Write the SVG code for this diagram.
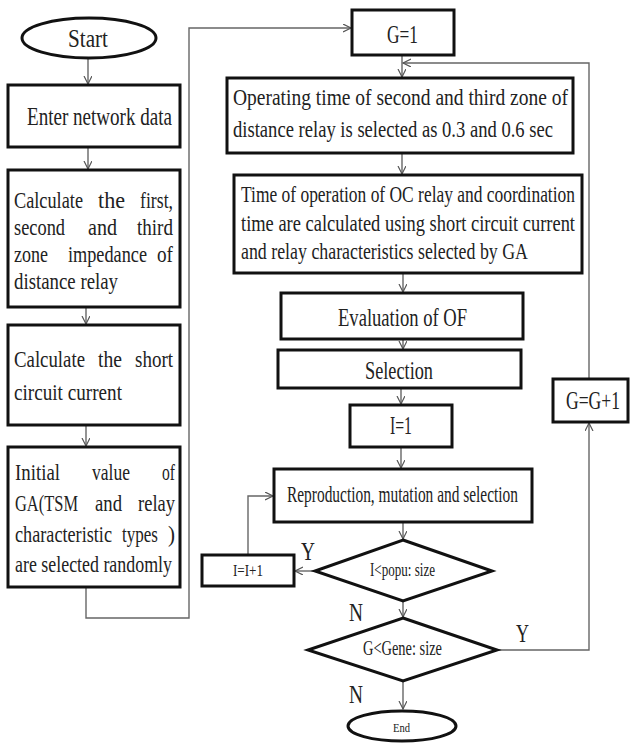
<svg xmlns="http://www.w3.org/2000/svg" width="630" height="744" viewBox="0 0 630 744">
<defs>
<marker id="ah" markerWidth="10" markerHeight="10" refX="8" refY="4" orient="auto" markerUnits="userSpaceOnUse">
<path d="M0,0 L8,4 L0,8" fill="none" stroke="#555" stroke-width="1.2"/>
</marker>
<style>
.box{fill:#fff;stroke:#111;stroke-width:3}
.con{fill:none;stroke:#666;stroke-width:1.4}
text{font-family:"Liberation Serif","Times New Roman",serif;fill:#222;lengthAdjust:spacingAndGlyphs}
.t{font-size:23px}
.lab{font-size:26px}
</style>
</defs>
<rect width="630" height="744" fill="#fff"/>

<g id="connectors">
<line class="con" x1="88" y1="59" x2="88" y2="84" marker-end="url(#ah)"/>
<line class="con" x1="88" y1="148" x2="88" y2="169" marker-end="url(#ah)"/>
<line class="con" x1="86" y1="307" x2="86" y2="324" marker-end="url(#ah)"/>
<line class="con" x1="86" y1="425" x2="86" y2="446" marker-end="url(#ah)"/>
<polyline class="con" points="86,588 86,618 189,618 189,28 351,28" marker-end="url(#ah)"/>
<line class="con" x1="402" y1="56" x2="402" y2="77" marker-end="url(#ah)"/>
<polyline class="con" points="589,379 589,63 403,63" marker-end="url(#ah)"/>
<line class="con" x1="402" y1="154" x2="402" y2="174" marker-end="url(#ah)"/>
<line class="con" x1="403" y1="274" x2="403" y2="292" marker-end="url(#ah)"/>
<line class="con" x1="403" y1="340" x2="403" y2="349" marker-end="url(#ah)"/>
<line class="con" x1="401" y1="389" x2="401" y2="404" marker-end="url(#ah)"/>
<line class="con" x1="401" y1="448" x2="401" y2="468" marker-end="url(#ah)"/>
<line class="con" x1="403" y1="523" x2="403" y2="539" marker-end="url(#ah)"/>
<line class="con" x1="315" y1="571" x2="295" y2="571" marker-end="url(#ah)"/>
<polyline class="con" points="248,555 248,496 273,496" marker-end="url(#ah)"/>
<line class="con" x1="403" y1="602" x2="403" y2="617" marker-end="url(#ah)"/>
<polyline class="con" points="497,650 589,650 589,423" marker-end="url(#ah)"/>
<line class="con" x1="403" y1="682" x2="403" y2="709" marker-end="url(#ah)"/>
</g>

<g id="start">
<ellipse class="box" cx="89" cy="38" rx="67" ry="20"/>
<text class="lab" x="68" y="47" textLength="40" lengthAdjust="spacingAndGlyphs">Start</text>
</g>

<g id="enter">
<rect class="box" x="8" y="85" width="172" height="62"/>
<text class="lab" x="27" y="125" textLength="145" lengthAdjust="spacingAndGlyphs">Enter network data</text>
</g>

<g id="calc-zone">
<rect class="box" x="8" y="170" width="172" height="137"/>
<text class="t" y="208"><tspan x="14" textLength="69" lengthAdjust="spacingAndGlyphs">Calculate</tspan><tspan x="98" textLength="27" lengthAdjust="spacingAndGlyphs">the</tspan><tspan x="140" textLength="33" lengthAdjust="spacingAndGlyphs">first,</tspan></text>
<text class="t" y="235"><tspan x="14" textLength="51" lengthAdjust="spacingAndGlyphs">second</tspan><tspan x="88" textLength="29" lengthAdjust="spacingAndGlyphs">and</tspan><tspan x="137" textLength="36" lengthAdjust="spacingAndGlyphs">third</tspan></text>
<text class="t" y="262"><tspan x="14" textLength="34" lengthAdjust="spacingAndGlyphs">zone</tspan><tspan x="68" textLength="79" lengthAdjust="spacingAndGlyphs">impedance</tspan><tspan x="157" textLength="16" lengthAdjust="spacingAndGlyphs">of</tspan></text>
<text class="t" x="14" y="289" textLength="104" lengthAdjust="spacingAndGlyphs">distance relay</text>
</g>

<g id="calc-short">
<rect class="box" x="8" y="325" width="172" height="100"/>
<text class="t" y="367"><tspan x="14" textLength="71" lengthAdjust="spacingAndGlyphs">Calculate</tspan><tspan x="98" textLength="24" lengthAdjust="spacingAndGlyphs">the</tspan><tspan x="135" textLength="38" lengthAdjust="spacingAndGlyphs">short</tspan></text>
<text class="t" x="14" y="400" textLength="108" lengthAdjust="spacingAndGlyphs">circuit current</text>
</g>

<g id="initial">
<rect class="box" x="8" y="447" width="172" height="140"/>
<text class="t" y="480"><tspan x="15" textLength="45" lengthAdjust="spacingAndGlyphs">Initial</tspan><tspan x="92" textLength="38" lengthAdjust="spacingAndGlyphs">value</tspan><tspan x="162" textLength="13" lengthAdjust="spacingAndGlyphs">of</tspan></text>
<text class="t" y="511"><tspan x="15" textLength="63" lengthAdjust="spacingAndGlyphs">GA(TSM</tspan><tspan x="95" textLength="27" lengthAdjust="spacingAndGlyphs">and</tspan><tspan x="138" textLength="37" lengthAdjust="spacingAndGlyphs">relay</tspan></text>
<text class="t" y="542"><tspan x="15" textLength="97" lengthAdjust="spacingAndGlyphs">characteristic</tspan><tspan x="122" textLength="36" lengthAdjust="spacingAndGlyphs">types</tspan><tspan x="168" textLength="7" lengthAdjust="spacingAndGlyphs">)</tspan></text>
<text class="t" x="15" y="572" textLength="157" lengthAdjust="spacingAndGlyphs">are selected randomly</text>
</g>

<g id="g1">
<rect class="box" x="352" y="10" width="102" height="45"/>
<text class="lab" x="387" y="43" textLength="31" lengthAdjust="spacingAndGlyphs">G=1</text>
</g>

<g id="operating">
<rect class="box" x="227" y="78" width="346" height="75"/>
<text class="t" x="233" y="105" textLength="335" lengthAdjust="spacingAndGlyphs">Operating time of second and third zone of</text>
<text class="t" x="233" y="137" textLength="320" lengthAdjust="spacingAndGlyphs">distance relay is selected as 0.3 and 0.6 sec</text>
</g>

<g id="timeop">
<rect class="box" x="234" y="175" width="348" height="98"/>
<text class="t" x="241" y="202" textLength="334" lengthAdjust="spacingAndGlyphs">Time of operation of OC relay and coordination</text>
<text class="t" x="241" y="231" textLength="334" lengthAdjust="spacingAndGlyphs">time are calculated using  short circuit current</text>
<text class="t" x="241" y="259" textLength="287" lengthAdjust="spacingAndGlyphs">and relay characteristics  selected by GA</text>
</g>

<g id="evaluation">
<rect class="box" x="281" y="293" width="242" height="46"/>
<text class="lab" x="338" y="326" textLength="129" lengthAdjust="spacingAndGlyphs">Evaluation of OF</text>
</g>

<g id="selection">
<rect class="box" x="278" y="350" width="243" height="38"/>
<text class="lab" x="365" y="379" textLength="68" lengthAdjust="spacingAndGlyphs">Selection</text>
</g>

<g id="i1">
<rect class="box" x="350" y="405" width="102" height="42"/>
<text class="lab" x="390" y="434" textLength="22" lengthAdjust="spacingAndGlyphs">I=1</text>
</g>

<g id="reproduction">
<rect class="box" x="274" y="469" width="258" height="53"/>
<text class="t" x="287" y="502" textLength="231" lengthAdjust="spacingAndGlyphs">Reproduction, mutation and selection</text>
</g>

<g id="popu">
<polygon class="box" points="403,540 492,571 403,601 315,571"/>
<text x="370" y="576" style="font-size:19px" textLength="65" lengthAdjust="spacingAndGlyphs">I&lt;popu: size</text>
</g>

<g id="ii1">
<rect class="box" x="202" y="555" width="92" height="31"/>
<text x="233" y="576" style="font-size:16px" textLength="30" lengthAdjust="spacingAndGlyphs">I=I+1</text>
</g>

<g id="gene">
<polygon class="box" points="403,618 497,650 403,681 308,650"/>
<text x="363" y="655" style="font-size:22px" textLength="79" lengthAdjust="spacingAndGlyphs">G&lt;Gene: size</text>
</g>

<g id="gg1">
<rect class="box" x="553" y="379" width="75" height="43"/>
<text class="lab" x="566" y="409" textLength="54" lengthAdjust="spacingAndGlyphs">G=G+1</text>
</g>

<g id="end">
<ellipse class="box" cx="402" cy="726" rx="54" ry="15"/>
<text x="393" y="732" style="font-size:13px" textLength="17" lengthAdjust="spacingAndGlyphs">End</text>
</g>

<g id="labels">
<text class="lab" x="301" y="560" textLength="14" lengthAdjust="spacingAndGlyphs">Y</text>
<text class="lab" x="349" y="621" textLength="14" lengthAdjust="spacingAndGlyphs">N</text>
<text class="lab" x="516" y="642" textLength="13" lengthAdjust="spacingAndGlyphs">Y</text>
<text class="lab" x="349" y="703" textLength="14" lengthAdjust="spacingAndGlyphs">N</text>
</g>
</svg>
